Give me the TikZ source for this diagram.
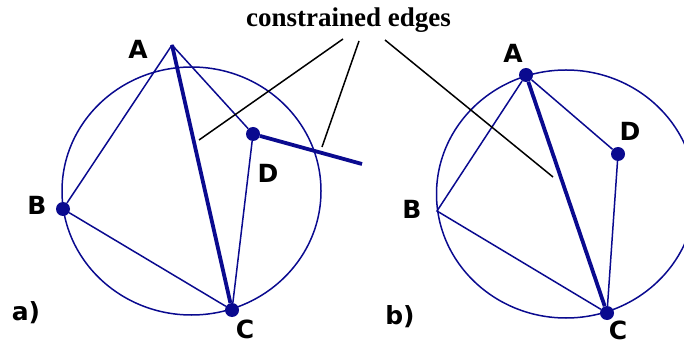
\documentclass[tikz,border=0pt]{standalone}
\usepackage{fontspec}
\setmainfont{Liberation Serif}
\newfontfamily\lblfont{DejaVu Sans}
\definecolor{edgecol}{HTML}{0A0A8F}
\usetikzlibrary{positioning}

\begin{document}
\begin{tikzpicture}[x=1pt,y=-1pt,
            pt/.style={circle, fill=edgecol, inner sep=0pt, minimum size=14pt},
            lbl/.style={font=\lblfont\bfseries\fontsize{25}{25}\selectfont, inner sep=0pt, anchor=base},
            tri/.style={edgecol, line width=1.5pt},
            cedge/.style={edgecol, line width=3.8pt},
            cc/.style={edgecol, line width=1.5pt},
            ptr/.style={black, line width=1.5pt}]
        \useasboundingbox (0,0) rectangle (684,344);
        % a) constrained edges in the triangulation
        \draw[cc] (191.5,191) ellipse [x radius=129.5pt, y radius=124pt];
        \coordinate (aA) at (172,45);
        \node[pt] (aB) at (63,209)  {};
        \node[pt] (aC) at (232,310) {};
        \node[pt] (aD) at (253,134) {};
        \coordinate (aE) at (362,164);
        \draw[tri] (aA) -- (aB) -- (aC) -- (aD) -- (aA);
        \draw[cedge] (aA) -- (aC) (aD) -- (aE);
        \node[lbl] (laA) at (138,59)  {A};
        \node[lbl] (laB) at (37,215)  {B};
        \node[lbl] (laC) at (245,338) {C};
        \node[lbl] (laD) at (268,183) {D};
        \node[lbl] (la)  at (26,320)  {a)};
        % b) after the flip
        \draw[cc] (566,194) ellipse [x radius=129.5pt, y radius=124pt];
        \node[pt] (bA) at (526,75)  {};
        \coordinate (bB) at (437,211);
        \node[pt] (bC) at (607,313) {};
        \node[pt] (bD) at (618,154) {};
        \draw[tri] (bA) -- (bB) -- (bC) -- (bD) -- (bA);
        \draw[cedge] (bA) -- (bC);
        \node[lbl] (lbA) at (513,63)  {A};
        \node[lbl] (lbB) at (412,219) {B};
        \node[lbl] (lbC) at (618,339) {C};
        \node[lbl] (lbD) at (630,141) {D};
        \node[lbl] (lb)  at (400,324) {b)};
        % pointers
        \node[font=\bfseries\fontsize{27}{27}\selectfont, inner sep=0pt, anchor=base] (title) at (348.5,26.5) {constrained edges};
        \coordinate (t1) at (343,39); \coordinate (h1) at (199,140);
        \coordinate (t2) at (359,41); \coordinate (h2) at (322,147);
        \coordinate (t3) at (385,40); \coordinate (h3) at (553,177);
        \draw[ptr] (t1) -- (h1) (t2) -- (h2) (t3) -- (h3);
\end{tikzpicture}
\end{document}
